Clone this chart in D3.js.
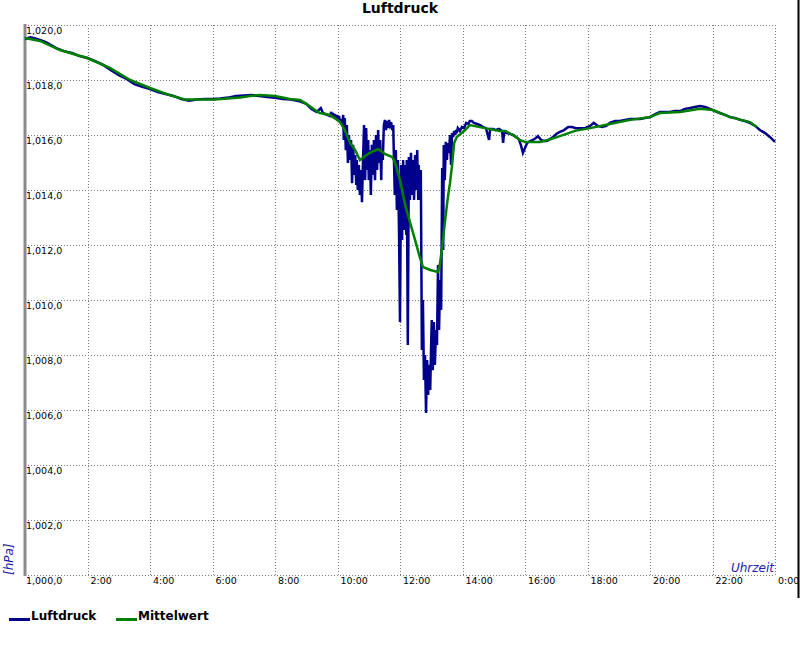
<!DOCTYPE html>
<html><head><meta charset="utf-8">
<script src="https://cdn.jsdelivr.net/npm/d3@7/dist/d3.min.js"></script>
<style>body{margin:0;background:#fff}svg{display:block}</style>
</head><body>
<svg id="chart" width="800" height="650"></svg>
<script>
// ---- data (time in minutes since midnight, pressure in hPa) ----
const luftTimes = [
 0,10,20,30,40,50,60,75,90,105,120,135,150,165,180,195,210,225,240,255,270,285,300,315,330,345,360,375,390,405,420,435,450,465,480,495,510,525,540,550,560,568,572,580,
 586,588,589,591,593,595,597,599,601,603,605,607,609,611,612,614,616,618,620,622,624,626,628,630,632,634,636,637,639,641,643,645,647,649,651,653,655,657,659,660,
 662,664,666,668,670,672,674,676,678,680,682,684,685,687,689,691,693,695,697,699,701,703,705,707,708,710,712,714,716,718,720,722,724,726,728,730,732,733,735,737,
 739,741,743,745,747,749,751,753,755,756,758,760,762,764,766,768,770,772,774,776,778,780,781,783,785,787,789,791,793,795,797,799,801,803,804,806,808,810,812,814,
 816,818,820,822,824,826,828,829,831,835,839,843,847,851,854,858,
 862,868,874,879,885,891,893,899,904,910,916,918,920,925,931,937,943,948,952,956,960,964,970,975,981,985,991,996,1002,1008,1014,1020,1027,1035,1043,1050,1058,1066,
 1075,1085,1092,1100,1108,1116,1123,1133,1142,1152,1162,1171,1181,1190,1200,1210,1219,1229,1238,1248,1258,1267,1277,1286,1296,1306,1315,1325,1334,1344,1354,1363,
 1373,1382,1392,1402,1411,1421,1430,1436,1440
];
const luftValues = [
 1019.49,1019.55,1019.51,1019.45,1019.38,1019.27,1019.16,1019.05,1018.98,1018.87,1018.80,1018.69,1018.55,1018.36,1018.18,1018.04,1017.85,1017.75,1017.67,1017.56,1017.49,1017.42,1017.31,1017.25,1017.29,1017.31,1017.31,1017.33,1017.36,1017.42,1017.44,1017.45,1017.42,1017.38,1017.35,1017.31,1017.29,1017.24,1017.13,1016.95,1016.84,1016.98,1016.80,1016.73,
 1016.69,1016.84,1016.65,1016.80,1016.62,1016.76,1016.58,1016.73,1016.55,1016.69,1016.44,1016.58,1016.36,1016.73,1015.82,1016.62,1015.45,1016.36,1014.98,1016.00,1015.09,1015.82,1014.25,1015.64,1014.55,1015.27,1014.18,1015.09,1014.00,1014.91,1013.82,1014.73,1013.56,1015.09,1016.36,1014.36,1016.25,1014.73,1015.82,1014.36,
 1015.45,1013.82,1015.64,1014.55,1015.82,1014.36,1016.00,1014.73,1016.18,1014.98,1015.82,1014.36,1015.45,1015.09,1016.36,1016.55,1016.18,1016.51,1016.25,1016.55,1016.36,1016.47,1016.18,1016.36,1015.45,1013.82,1015.45,1013.27,1015.09,1012.65,1009.20,1014.91,1012.18,1015.09,1012.55,1014.91,1012.36,1015.09,1008.36,1015.20,
 1013.64,1015.35,1013.82,1015.09,1013.64,1015.27,1014.00,1015.45,1013.64,1014.91,1013.64,1014.73,1008.18,1010.00,1007.09,1008.00,1005.89,1007.82,1006.55,1007.64,1006.73,1008.55,1009.27,1007.45,1009.20,1007.64,1008.91,1008.36,1011.27,1008.91,1010.73,1009.64,1014.80,1011.82,1015.64,1014.36,1015.75,1015.09,1015.71,1015.35,
 1016.00,1014.91,1016.07,1015.93,1016.15,1016.00,1016.18,1016.07,1016.25,1016.15,1016.29,1016.25,1016.44,1016.40,1016.51,1016.51,
 1016.44,1016.40,1016.36,1016.29,1016.25,1015.82,1016.22,1016.22,1016.18,1016.22,1016.15,1015.71,1016.11,1016.07,1016.04,1016.00,1015.93,1015.85,1015.64,1015.35,1015.53,1015.71,1015.78,1015.82,1015.89,1015.96,1015.82,1015.78,1015.78,1015.85,1015.93,1016.04,1016.11,1016.18,1016.29,1016.29,1016.25,1016.25,
 1016.25,1016.33,1016.44,1016.33,1016.29,1016.33,1016.44,1016.51,1016.51,1016.55,1016.58,1016.58,1016.58,1016.62,1016.65,1016.76,1016.84,1016.84,1016.84,1016.87,1016.87,1016.95,1016.98,1017.02,1017.05,1017.02,1016.95,1016.87,1016.80,1016.73,1016.65,1016.62,
 1016.55,1016.51,1016.44,1016.33,1016.18,1016.07,1015.93,1015.82,1015.75
];
const mittelTimes = [
 0,29,67,119,163,202,240,278,307,365,413,432,451,480,509,528,538,557,566,586,605,614,624,634,643,653,662,678,691,705,710,720,730,739,749,758,764,778,793,797,801,806,812,816,820,824,829,845,854,
 883,912,922,937,950,960,989,1004,1027,1056,1085,1123,1162,1200,1219,1258,1296,1321,1354,1392,1405
];
const mittelValues = [
 1019.53,1019.42,1019.09,1018.80,1018.44,1018.00,1017.71,1017.45,1017.29,1017.29,1017.36,1017.42,1017.45,1017.42,1017.31,1017.27,1017.16,1016.91,1016.80,1016.73,1016.47,1016.18,1015.71,1015.45,1015.09,1015.24,1015.35,1015.49,1015.31,1015.20,1015.02,1014.36,1013.45,1012.84,1012.18,1011.56,1011.20,1011.09,1011.02,1011.35,1011.93,1012.80,1013.75,1014.25,1014.91,1015.71,1015.93,1016.18,1016.36,
 1016.25,1016.15,1016.15,1016.00,1015.82,1015.75,1015.75,1015.82,1015.96,1016.15,1016.25,1016.40,1016.55,1016.65,1016.80,1016.84,1016.95,1016.91,1016.65,1016.47,1016.29
];
const seriesNames = ["Luftdruck", "Mittelwert"];
const seriesColors = ["#00008b", "#008000"];
const yTicks = [1000,1002,1004,1006,1008,1010,1012,1014,1016,1018,1020];
const yTickLabels = ["1,000,0","1,002,0","1,004,0","1,006,0","1,008,0","1,010,0","1,012,0","1,014,0","1,016,0","1,018,0","1,020,0"];
const xTicks = [120,240,360,480,600,720,840,960,1080,1200,1320,1440];
const xTickLabels = ["2:00","4:00","6:00","8:00","10:00","12:00","14:00","16:00","18:00","20:00","22:00","0:00"];
const titleText = "Luftdruck";
const yAxisTitle = "[hPa]";
const xAxisTitle = "Uhrzeit";

// ---- layout ----
const L = 25, R = 775, T = 25, B = 575;
const svg = d3.select("#chart");
const x = d3.scaleLinear().domain([0, 1440]).range([L, R]);
const y = d3.scaleLinear().domain([1000, 1020]).range([B, T]);
const font = "'DejaVu Sans', Verdana, sans-serif";

svg.append("rect").attr("width", 800).attr("height", 650).attr("fill", "#fff");

// title
svg.append("text").attr("x", 400).attr("y", 13).attr("text-anchor", "middle")
  .attr("font-family", font).attr("font-size", 14).attr("font-weight", "bold")
  .attr("fill", "#000").text(titleText);

// grid lines (dotted)
const gy = svg.append("g").attr("transform", `translate(${L},0)`)
  .call(d3.axisRight(y).tickValues(yTicks).tickSize(R - L).tickFormat(""));
gy.select(".domain").remove();
gy.selectAll("line").attr("stroke", "#7a7a7a").attr("stroke-dasharray", "1,2").attr("shape-rendering", "crispEdges");

const gx = svg.append("g").attr("transform", `translate(0,${B})`)
  .call(d3.axisTop(x).tickValues(xTicks).tickSize(B - T).tickFormat(""));
gx.select(".domain").remove();
gx.selectAll("line").attr("stroke", "#7a7a7a").attr("stroke-dasharray", "1,2").attr("shape-rendering", "crispEdges");

// y labels (inside plot, under grid lines)
const ly = svg.append("g").attr("transform", `translate(${L},0)`)
  .call(d3.axisRight(y).tickValues(yTicks).tickSize(0).tickPadding(1)
    .tickFormat((d, i) => yTickLabels[i]));
ly.select(".domain").remove();
ly.selectAll("text").attr("dy", 8.5).attr("font-family", font).attr("font-size", 9.5).attr("fill", "#000");

// x labels
const lx = svg.append("g").attr("transform", `translate(0,${B})`)
  .call(d3.axisBottom(x).tickValues(xTicks).tickSize(0).tickPadding(0)
    .tickFormat((d, i) => xTickLabels[i]));
lx.select(".domain").remove();
lx.selectAll("text").attr("text-anchor", "start").attr("x", 2.5).attr("y", 0).attr("dy", 8.5)
  .attr("font-family", font).attr("font-size", 9.5).attr("fill", "#000");

// left axis bar
svg.append("line").attr("x1", L).attr("x2", L).attr("y1", T - 1).attr("y2", B + 1)
  .attr("stroke", "#8a8a8a").attr("stroke-width", 3);

// series
const line = d3.line().x(d => x(d[0])).y(d => y(d[1]));
const luft = luftTimes.map((t, i) => [t, luftValues[i]]);
const mittel = mittelTimes.map((t, i) => [t, mittelValues[i]]);
svg.append("path").datum(luft).attr("d", line).attr("fill", "none")
  .attr("stroke", seriesColors[0]).attr("stroke-width", 2.5).attr("stroke-linejoin", "miter");
svg.append("path").datum(mittel).attr("d", line).attr("fill", "none")
  .attr("stroke", seriesColors[1]).attr("stroke-width", 2.5);

// axis titles
svg.append("text").attr("x", 774).attr("y", 572).attr("text-anchor", "end")
  .attr("font-family", font).attr("font-size", 12).attr("font-style", "italic")
  .attr("fill", "#2020b0").text(xAxisTitle);
svg.append("text").attr("transform", "translate(13,575) rotate(-90)").attr("text-anchor", "start")
  .attr("font-family", font).attr("font-size", 12).attr("font-style", "italic")
  .attr("fill", "#2020b0").text(yAxisTitle);

// right border
svg.append("line").attr("x1", 798.5).attr("x2", 798.5).attr("y1", 0).attr("y2", 598)
  .attr("stroke", "#000").attr("stroke-width", 2);

// legend
const leg = svg.append("g");
const legX = [9, 116];
seriesNames.forEach((n, i) => {
  leg.append("line").attr("x1", legX[i]).attr("x2", legX[i] + 21).attr("y1", 619.5).attr("y2", 619.5)
    .attr("stroke", seriesColors[i]).attr("stroke-width", 3);
  leg.append("text").attr("x", legX[i] + 22).attr("y", 620)
    .attr("font-family", font).attr("font-size", 12).attr("font-weight", "bold")
    .attr("fill", "#000").text(n);
});
</script>
</body></html>
